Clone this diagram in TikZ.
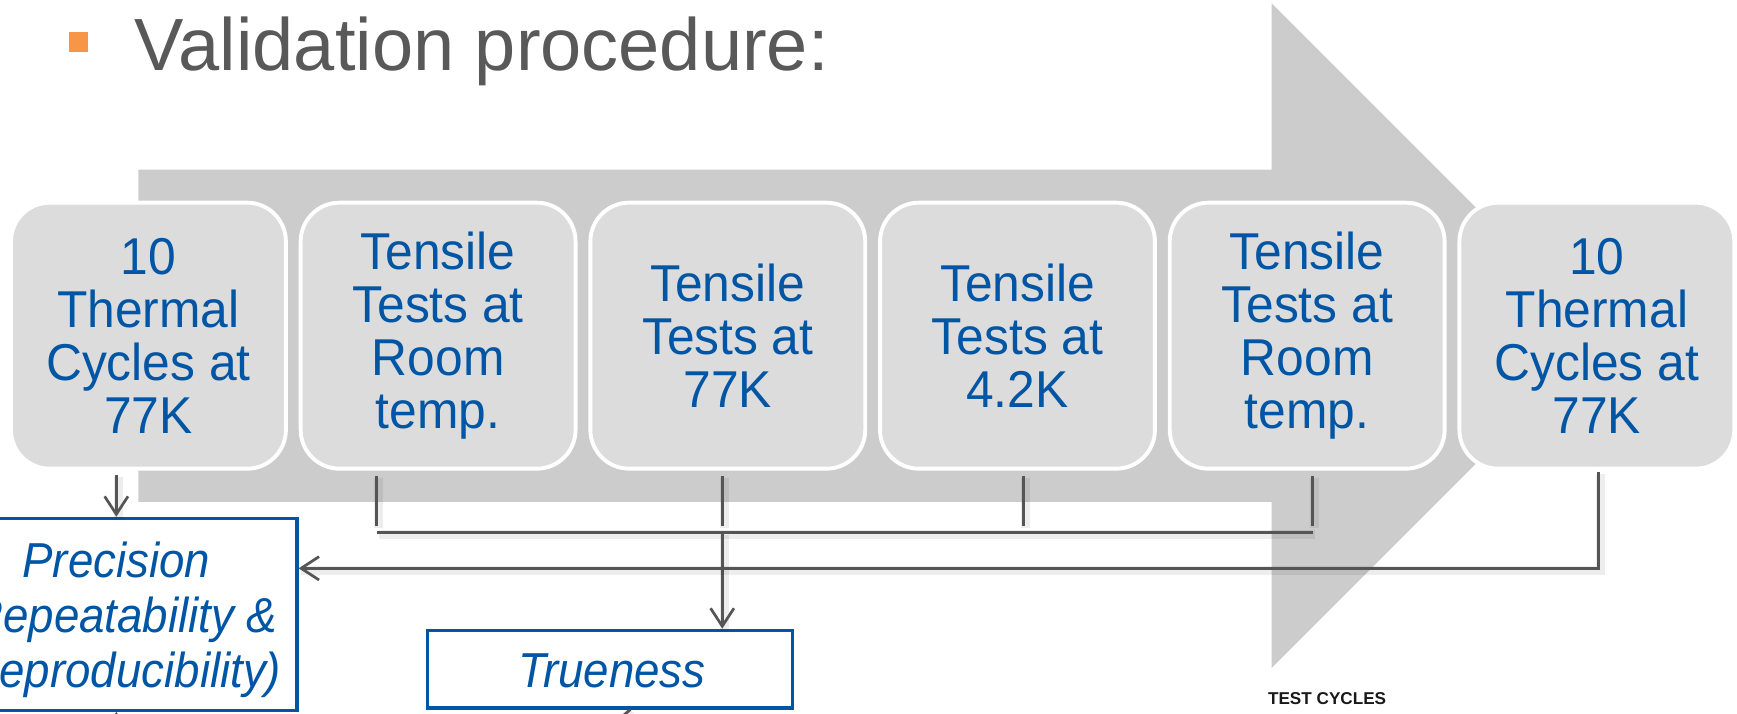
\documentclass[tikz,border=0pt]{standalone}
\usepackage{fontspec}
\setmainfont{Liberation Sans}
\newfontfamily\stepfont{Liberation Sans}[FakeStretch=0.96]
\newfontfamily\resultfont{Liberation Sans}[FakeStretch=0.93]
\usetikzlibrary{arrows.meta,calc}
\definecolor{shaft}{HTML}{CCCCCC}
\definecolor{stepfill}{HTML}{DCDCDC}
\definecolor{txtblue}{HTML}{0055A4}
\definecolor{linegray}{HTML}{555555}
\definecolor{titlegray}{HTML}{595959}
\definecolor{bulletorange}{HTML}{F79646}

\begin{document}
\begin{tikzpicture}[x=0.01cm,y=-0.01cm,
  stepbox/.style={draw=white, line width=1pt, fill=stepfill,
    rounded corners=0.35cm, minimum width=2.48cm, minimum height=2.4cm,
    text=txtblue, align=center, inner sep=0pt,
    font=\stepfont\fontsize{13.3}{13.6}\selectfont},
  resultbox/.style={draw=txtblue, line width=0.85pt, fill=white,
    inner sep=0pt},
  resulttext/.style={text=txtblue, align=center, inner sep=0pt,
    font=\resultfont\itshape\fontsize{12.6}{14.2}\selectfont},
  glow/.style={preaction={-, draw=black, draw opacity=0.07, line width=2.4pt,
    transform canvas={shift={(0.5pt,-0.5pt)}}}},
  link/.style={draw=linegray, line width=0.7pt, glow},
  arr/.style={link, -{Straight Barb[length=4.6pt,width=6pt,line width=0.7pt]}},
]
\useasboundingbox (0,0) rectangle (1568,644);
\clip (0,0) rectangle (1568,644);

% heading
\node[fill=bulletorange, minimum width=0.17cm, minimum height=0.18cm,
      inner sep=0pt] (bullet) at (70.5,38) {};
\node[anchor=base west, inner sep=0pt, text=titlegray,
      font=\fontsize{19}{19}\selectfont] (title) at (121,64)
      {Validation procedure:};

% large process arrow behind the steps
\fill[shaft] (125,153) -- (1148,153) -- (1148,3) -- (1448,303)
  -- (1148,603) -- (1148,453) -- (125,453) -- cycle;

% test steps
\node[stepbox] (s1) at (134,303)   {10\\Thermal\\Cycles at\\77K};
\node[stepbox] (s2) at (395.5,303) {Tensile\\Tests at\\Room\\temp.};
\node[stepbox] (s3) at (657,303)   {Tensile\\Tests at\\77K};
\node[stepbox] (s4) at (918.5,303) {Tensile\\Tests at\\4.2K};
\node[stepbox] (s5) at (1180,303)  {Tensile\\Tests at\\Room\\temp.};
\node[stepbox] (s6) at (1441.5,303){10\\Thermal\\Cycles at\\77K};

% results
\node[resultbox, minimum width=3.26cm, minimum height=1.73cm] (pr)
  at (105,554.5) {};
\node[resulttext] (prtext) at ($(pr.center)+(0,5)$)
  {Precision\\(Repeatability \&\\(Reproducibility)};
\node[resultbox, minimum width=3.29cm, minimum height=0.70cm] (tr)
  at (550.5,604) {};
\node[resulttext] (trtext) at ($(tr.center)+(2,2)$) {Trueness};

\node[anchor=base west, inner sep=0pt, text=black!90,
      font=\fontsize{4.4}{4.4}\selectfont\bfseries] (tc) at (1144,636)
      {TEST CYCLES};

% bracket joining the tensile tests
\coordinate (b2) at ($(s2.south)+(-55.5,5)$);
\coordinate (b3) at ($(s3.south)+(-5,5)$);
\coordinate (b4) at ($(s4.south)+(5.5,5)$);
\coordinate (b5) at ($(s5.south)+(5,5)$);
\coordinate (j2) at ($(b2)+(0,51)$);
\coordinate (j3) at ($(b3)+(0,51)$);
\coordinate (j5) at ($(b5)+(0,51)$);
\draw[link] (b2) -- ++(0,45);
\draw[link] (b3) -- ++(0,45);
\draw[link] (b4) -- ++(0,45);
\draw[link] (b5) -- ++(0,45);
\draw[link] (j2) -- (j5);
\draw[arr] (j3) -- (j3 |- tr.north);

% thermal cycles to precision
\draw[arr] ($(pr.north |- s1.south)+(0,4)$) -- (pr.north);
\draw[arr] ($(s6.south)+(1.5,1)$) |- ($(pr.east)+(0,-41.5)$);

% connectors leaving below
\draw[arr] ($(pr.south)+(0,40)$) -- (pr.south);
\draw[link] ($(tr.south)+(18.5,0)$) -- ++(-14,12);
\end{tikzpicture}
\end{document}
